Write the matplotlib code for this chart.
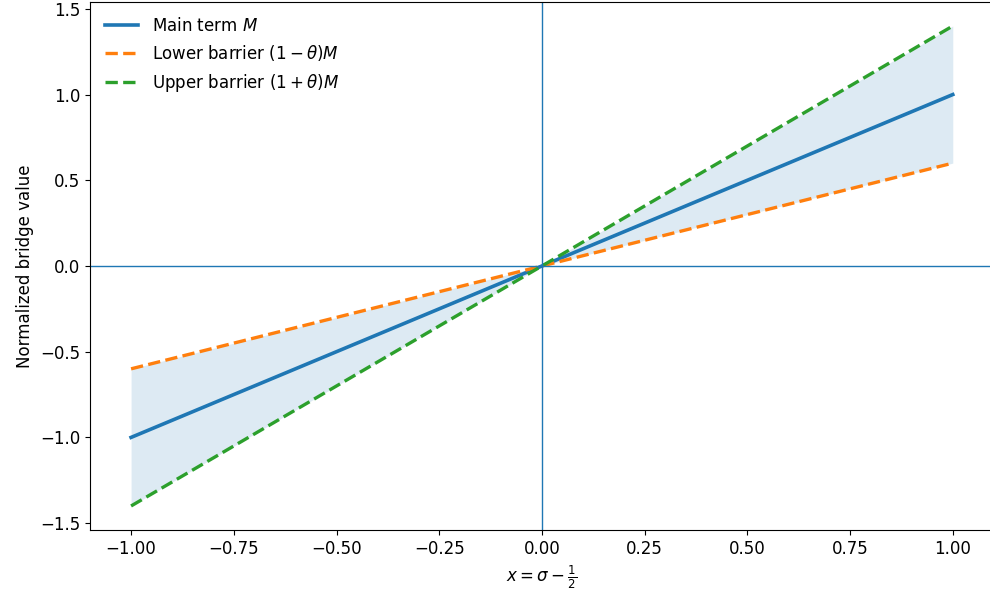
import numpy as np
import matplotlib.pyplot as plt

theta = 0.4
x = np.array([-1.0, -0.5, 0.0, 0.5, 1.0])
M = np.array([-1.0, -0.5, 0.0, 0.5, 1.0])
lower = (1 - theta) * M
upper = (1 + theta) * M

plt.rcParams['font.size'] = 12

fig = plt.figure(figsize=(9.9, 6), dpi=100)
ax = fig.add_axes([0.0909, 0.1167, 0.913, 0.88])

ax.fill_between(x, lower, upper, color='C0', alpha=0.15, linewidth=0)
ax.plot(x, M, color='C0', lw=2.6, label='Main term $M$')
ax.plot(x, lower, '--', color='C1', lw=2.4, label=r'Lower barrier $(1-\theta)M$')
ax.plot(x, upper, '--', color='C2', lw=2.4, label=r'Upper barrier $(1+\theta)M$')
ax.axhline(0, color='C0', lw=1)
ax.axvline(0, color='C0', lw=1)

ax.set_xlim(-1.1, 1.1)
ax.set_ylim(-1.54, 1.54)
ax.set_xticks([-1.0, -0.75, -0.5, -0.25, 0.0, 0.25, 0.5, 0.75, 1.0])
ax.set_yticks([-1.5, -1.0, -0.5, 0.0, 0.5, 1.0, 1.5])
ax.set_xlabel(r'$x=\sigma-\frac{1}{2}$')
ax.set_ylabel('Normalized bridge value')
ax.legend(loc='upper left', frameon=False)

fig.savefig('out.png', dpi=100)
